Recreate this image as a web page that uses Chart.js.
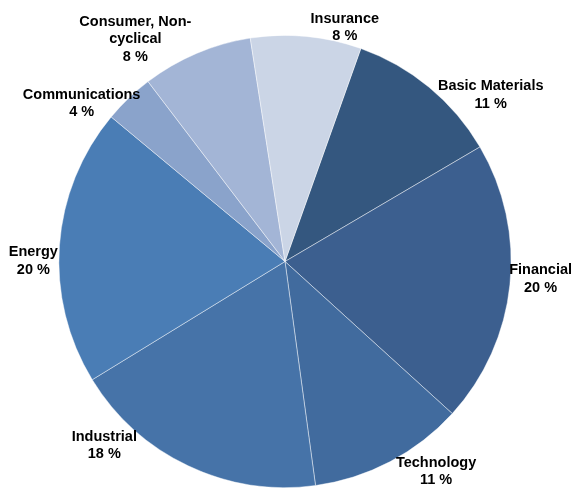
<!DOCTYPE html>
<html>
<head>
<meta charset="utf-8">
<script src="https://cdn.jsdelivr.net/npm/chart.js@4/dist/chart.umd.min.js"></script>
<style>
html,body{margin:0;padding:0;background:#fff;}
#wrap{width:574px;height:488px;position:relative;}
</style>
</head>
<body>
<div id="wrap"><canvas id="c" width="574" height="488"></canvas></div>
<script>
// Data
const categories = ["Basic Materials", "Financial", "Technology", "Industrial", "Energy", "Communications", "Consumer, Non-cyclical", "Insurance"];
const labelLines = [["Basic Materials"], ["Financial"], ["Technology"], ["Industrial"], ["Energy"], ["Communications"], ["Consumer, Non-", "cyclical"], ["Insurance"]];
const shares = [11.1, 20.2, 11.1, 18.4, 19.8, 3.6, 7.9, 7.9];

// Styles
const colors = ["#34577F", "#3C5F8F", "#416B9E", "#4673A8", "#4A7DB5", "#8AA3CB", "#A3B5D6", "#CBD5E6"];
// label placement: [angle offset from slice middle (deg), distance as fraction of radius]
const labelLayout = [[11.4, 1.171], [-2.0, 1.133], [-8.0, 1.144], [19.1, 1.141], [-4.0, 1.113], [-8.4, 1.139], [-10.9, 1.185], [8.95, 1.069]];

const labelPlugin = {
  id: 'sliceLabels',
  afterDatasetsDraw(chart) {
    const ctx = chart.ctx;
    const meta = chart.getDatasetMeta(0);
    const ds = chart.data.datasets[0];
    ctx.save();
    ctx.font = 'bold 14.5px "Liberation Sans", Arial, sans-serif';
    ctx.fillStyle = '#000';
    ctx.textAlign = 'center';
    ctx.textBaseline = 'middle';
    const lh = 17.5;
    meta.data.forEach((arc, i) => {
      const p = arc.getProps(['x', 'y', 'startAngle', 'endAngle', 'outerRadius'], true);
      const mid = (p.startAngle + p.endAngle) / 2 + labelLayout[i][0] * Math.PI / 180;
      const r = p.outerRadius * labelLayout[i][1];
      const cx = p.x + Math.cos(mid) * r;
      const cy = p.y + Math.sin(mid) * r;
      const lines = labelLines[i].concat([Math.round(ds.data[i]) + ' %']);
      const y0 = cy - (lines.length - 1) * lh / 2;
      lines.forEach((t, k) => ctx.fillText(t, cx, y0 + k * lh));
    });
    ctx.restore();
  }
};

new Chart(document.getElementById('c'), {
  type: 'pie',
  data: {
    labels: categories,
    datasets: [{
      data: shares,
      backgroundColor: colors,
      borderColor: 'rgba(255,255,255,0.55)',
      borderWidth: 0.8,
      hoverOffset: 0
    }]
  },
  options: {
    responsive: false,
    animation: false,
    rotation: 19.6,
    layout: { padding: { left: 58, right: 62, top: 35, bottom: 0 } },
    plugins: { legend: { display: false }, tooltip: { enabled: false } }
  },
  plugins: [labelPlugin]
});
</script>
</body>
</html>
